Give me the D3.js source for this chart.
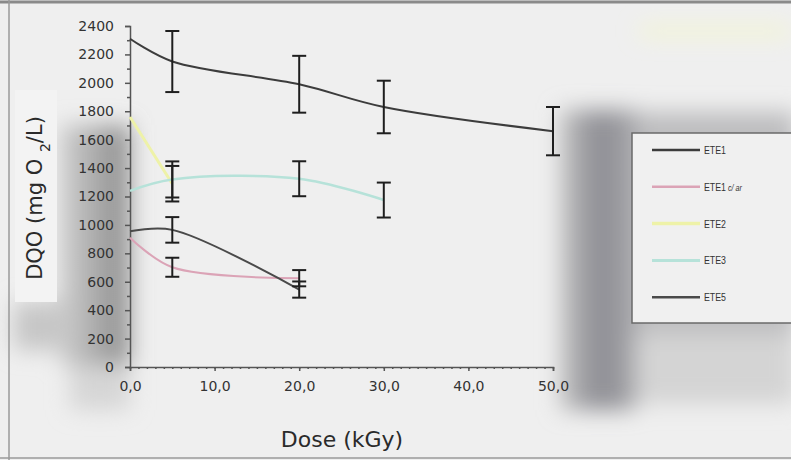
<!DOCTYPE html>
<html>
<head>
<meta charset="utf-8">
<script src="https://cdn.jsdelivr.net/npm/d3@7"></script>
<style>
  html, body { margin: 0; padding: 0; background: #efefef; }
  svg { display: block; }
</style>
</head>
<body>
<svg id="chart" width="791" height="460"></svg>
<script>
// Dose (kGy) values, DQO means (mg O2/L) and their standard deviations per effluent
const ete1Dose = [0, 5, 20, 30, 50];
const ete1Dqo  = [2310, 2150, 1990, 1830, 1660];
const ete1Err  = [null, 215, 200, 185, 170];

const ete1ArDose = [0, 5, 20];
const ete1ArDqo  = [910, 702, 625];
const ete1ArErr  = [null, 67, 57];

const ete2Dose = [0, 5];
const ete2Dqo  = [1760, 1290];
const ete2Err  = [null, 125];

const ete3Dose = [0, 5, 20, 30];
const ete3Dqo  = [1240, 1320, 1325, 1175];
const ete3Err  = [null, 127, 123, 123];

const ete5Dose = [0, 5, 20];
const ete5Dqo  = [955, 965, 545];
const ete5Err  = [null, 90, 57];

const seriesNames = ["ETE1", "ETE1 c/ ar", "ETE2", "ETE3", "ETE5"];
const xTickValues = [0, 10, 20, 30, 40, 50];
const yTickValues = [0, 200, 400, 600, 800, 1000, 1200, 1400, 1600, 1800, 2000, 2200, 2400];

const series = [
  { name: seriesNames[0], dose: ete1Dose, dqo: ete1Dqo, err: ete1Err, color: "#3c3c3c", width: 2 },
  { name: seriesNames[1], dose: ete1ArDose, dqo: ete1ArDqo, err: ete1ArErr, color: "#dba3b6", width: 2 },
  { name: seriesNames[2], dose: ete2Dose, dqo: ete2Dqo, err: ete2Err, color: "#eef2a8", width: 3 },
  { name: seriesNames[3], dose: ete3Dose, dqo: ete3Dqo, err: ete3Err, color: "#b6e2d9", width: 2.5 },
  { name: seriesNames[4], dose: ete5Dose, dqo: ete5Dqo, err: ete5Err, color: "#4a4a4a", width: 2 }
];

const svg = d3.select("#chart");
const x = d3.scaleLinear().domain([0, 50]).range([130, 553]);
const y = d3.scaleLinear().domain([0, 2400]).range([367, 26]);

// soft grey shading around the plot
const defs = svg.append("defs");
const blur = defs.append("filter").attr("id", "soft").attr("filterUnits", "userSpaceOnUse")
  .attr("x", -50).attr("y", -50).attr("width", 900).attr("height", 560);
blur.append("feGaussianBlur").attr("stdDeviation", 11);
const gl = defs.append("linearGradient").attr("id", "leftShade").attr("x1", 0).attr("x2", 1).attr("y1", 0).attr("y2", 0);
gl.append("stop").attr("offset", 0).attr("stop-color", "#cfcfcf");
gl.append("stop").attr("offset", 1).attr("stop-color", "#8a8a8a");
const gr = defs.append("linearGradient").attr("id", "rightShade").attr("x1", 0).attr("x2", 1).attr("y1", 0).attr("y2", 0);
gr.append("stop").attr("offset", 0).attr("stop-color", "#c4c4c4");
gr.append("stop").attr("offset", 0.5).attr("stop-color", "#8c8c92");
gr.append("stop").attr("offset", 1).attr("stop-color", "#a6a6aa");

const shade = svg.append("g").attr("filter", "url(#soft)");
shade.append("rect").attr("x", 60).attr("y", 125).attr("width", 70).attr("height", 240).attr("fill", "url(#leftShade)");
shade.append("rect").attr("x", 70).attr("y", 365).attr("width", 60).attr("height", 45).attr("fill", "#d6d6d6");
shade.append("rect").attr("x", 14).attr("y", 302).attr("width", 46).attr("height", 48).attr("fill", "#c6c6c6");
shade.append("rect").attr("x", 560).attr("y", 110).attr("width", 76).attr("height", 300).attr("fill", "url(#rightShade)");
shade.append("rect").attr("x", 636).attr("y", 112).attr("width", 160).attr("height", 222).attr("fill", "#bdbdbf");
shade.append("rect").attr("x", 636).attr("y", 334).attr("width", 160).attr("height", 70).attr("fill", "#d4d4d4");
shade.append("rect").attr("x", 640).attr("y", 27).attr("width", 150).attr("height", 8).attr("fill", "#f4f8c4");

// outer frame
svg.append("line").attr("x1", 0).attr("x2", 791).attr("y1", 2).attr("y2", 2).attr("stroke", "#8a8a8a").attr("stroke-width", 3);
svg.append("line").attr("x1", 9).attr("x2", 9).attr("y1", 0).attr("y2", 460).attr("stroke", "#9a9a9a").attr("stroke-width", 1.5);
svg.append("line").attr("x1", 0).attr("x2", 791).attr("y1", 458).attr("y2", 458).attr("stroke", "#9a9a9a").attr("stroke-width", 1.5);

// axes
svg.append("g").attr("transform", `translate(${x(0)},0)`)
  .call(d3.axisLeft(y).tickValues(yTickValues).tickSize(5).tickPadding(11).tickFormat(d3.format("d")));
svg.append("g").attr("transform", `translate(${x(0)},0)`)
  .call(d3.axisLeft(y).tickValues(d3.range(100, 2400, 200)).tickSize(3).tickFormat(""))
  .call(g => g.select(".domain").remove());
svg.append("g").attr("transform", `translate(0,${y(0)})`)
  .call(d3.axisBottom(x).tickValues(xTickValues).tickSize(4).tickPadding(10)
    .tickFormat(d => d3.format(".1f")(d).replace(".", ",")));
svg.append("g").attr("transform", `translate(0,${y(0)})`)
  .call(d3.axisBottom(x).tickValues(d3.range(0, 51, 1)).tickSize(2).tickFormat(""))
  .call(g => g.select(".domain").remove());
svg.selectAll(".domain, .tick line").attr("stroke", "#555").attr("stroke-width", 1.5);
svg.selectAll(".tick text").attr("fill", "#333").style("font-family", "DejaVu Sans").style("font-size", "14px");

// curves
const line = d3.line().x(d => x(d[0])).y(d => y(d[1])).curve(d3.curveCatmullRom.alpha(0.5));
const plot = svg.append("g");
series.forEach(s => {
  const pts = s.dose.map((d, i) => [d, s.dqo[i]]);
  plot.append("path").datum(pts).attr("d", line)
    .attr("fill", "none").attr("stroke", s.color).attr("stroke-width", s.width);
});

// error bars
const bars = svg.append("g").attr("stroke", "#1e1e1e").attr("stroke-width", 2);
series.forEach(s => {
  s.dose.forEach((d, i) => {
    const e = s.err[i];
    if (e == null) return;
    const cx = x(d), top = y(s.dqo[i] + e), bot = y(s.dqo[i] - e);
    bars.append("line").attr("x1", cx).attr("x2", cx).attr("y1", top).attr("y2", bot);
    bars.append("line").attr("x1", cx - 7).attr("x2", cx + 7).attr("y1", top).attr("y2", top);
    bars.append("line").attr("x1", cx - 7).attr("x2", cx + 7).attr("y1", bot).attr("y2", bot);
  });
});

// axis titles
svg.append("text").attr("x", 342).attr("y", 447).attr("text-anchor", "middle")
  .style("font-family", "DejaVu Sans").style("font-size", "22px").attr("fill", "#2a2a2a")
  .text("Dose (kGy)");
svg.append("rect").attr("x", 15).attr("y", 90).attr("width", 42).attr("height", 212).attr("fill", "#f3f3f3");
const yt = svg.append("text").attr("transform", "translate(42,198) rotate(-90)").attr("text-anchor", "middle")
  .style("font-family", "DejaVu Sans").style("font-size", "21px").attr("fill", "#2a2a2a");
yt.append("tspan").text("DQO (mg O ");
yt.append("tspan").attr("baseline-shift", "sub").style("font-size", "14px").text("2");
yt.append("tspan").text("/L)");

// legend
const lg = svg.append("g");
lg.append("rect").attr("x", 632).attr("y", 133).attr("width", 170).attr("height", 190)
  .attr("fill", "#f0f0f0").attr("stroke", "#6a6a6a").attr("stroke-width", 1.5);
series.forEach((s, i) => {
  const ly = 150 + i * 36.8;
  lg.append("line").attr("x1", 652).attr("x2", 700).attr("y1", ly).attr("y2", ly)
    .attr("stroke", s.color).attr("stroke-width", s.width + 0.5);
  const t = lg.append("text").attr("transform", `translate(704,${ly + 4}) scale(0.8,1)`)
    .style("font-family", "Liberation Sans").style("font-size", "11px").attr("fill", "#333");
  const parts = s.name.split(" ");
  t.append("tspan").text(parts[0]);
  if (parts.length > 1) t.append("tspan").style("font-size", "9px").style("font-style", "italic").text(" " + parts.slice(1).join(" "));
});
</script>
</body>
</html>
